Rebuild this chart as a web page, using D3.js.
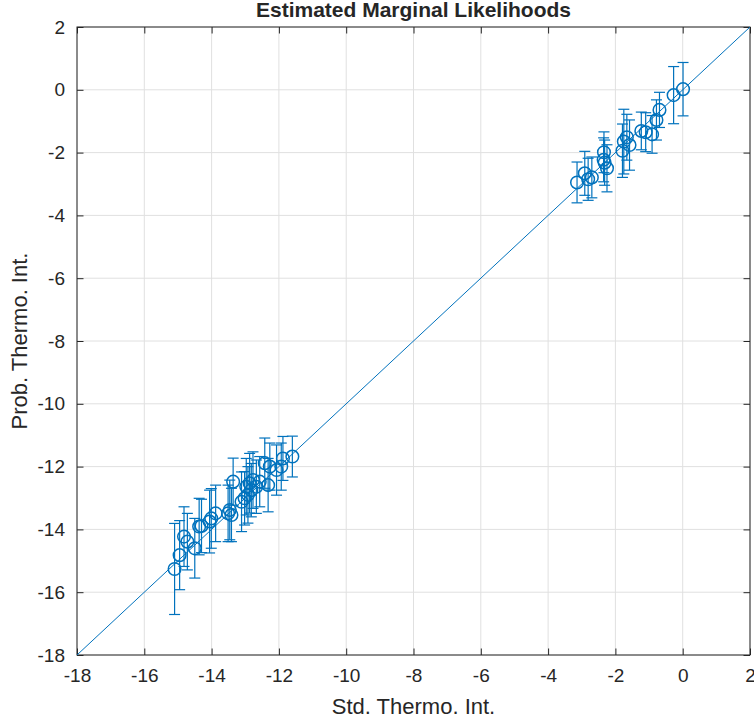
<!DOCTYPE html>
<html>
<head>
<meta charset="utf-8">
<script src="https://cdn.jsdelivr.net/npm/d3@7"></script>
<style>
  body { margin: 0; background: #fff; }
  svg text { font-family: "Liberation Sans", Arial, Helvetica, sans-serif; fill: #262626; }
</style>
</head>
<body>
<svg id="chart"></svg>
<script>
// x = standard thermodynamic integration, y = probabilistic thermodynamic integration
const stdTI = [
  -3.14, -2.91, -2.81, -2.70, -2.34, -2.35, -2.32, -2.25, -1.79, -1.75,
  -1.66, -1.58, -1.23, -1.10, -0.91, -0.78, -0.69, -0.27, 0.01,
  -15.10, -14.95, -14.82, -14.72, -14.50, -14.37, -14.30, -14.06, -14.01, -13.88,
  -13.51, -13.46, -13.41, -13.36, -13.11, -13.02, -12.92, -12.97, -12.87, -12.82,
  -12.77, -12.67, -12.57, -12.32, -12.42, -12.27, -12.07, -11.93, -11.88, -11.60
];
const probTI = [
  -2.95, -2.66, -2.85, -2.79, -1.99, -2.23, -2.32, -2.50, -1.94, -1.65,
  -1.51, -1.76, -1.31, -1.35, -1.42, -0.96, -0.64, -0.17, 0.02,
  -15.26, -14.82, -14.23, -14.39, -14.60, -13.91, -13.89, -13.75, -13.65, -13.49,
  -13.49, -13.38, -13.54, -12.48, -13.12, -13.01, -12.90, -12.64, -12.53, -12.75,
  -12.43, -12.64, -12.48, -12.59, -11.89, -12.00, -12.11, -12.00, -11.74, -11.68
];
const probErr = [
  0.65, 0.70, 0.67, 0.65, 0.65, 0.70, 0.72, 0.75, 0.85, 1.03,
  0.73, 0.80, 0.60, 0.62, 0.60, 0.64, 0.56, 0.91, 0.85,
  1.45, 1.10, 0.95, 0.90, 0.95, 0.90, 0.85, 1.00, 0.95, 0.90,
  0.90, 0.95, 0.85, 0.75, 0.95, 0.85, 0.90, 0.90, 0.95, 0.85,
  0.90, 0.85, 0.80, 0.85, 0.80, 0.75, 0.80, 0.75, 0.70, 0.65
];
const xTicks = [-18, -16, -14, -12, -10, -8, -6, -4, -2, 0, 2];
const yTicks = [-18, -16, -14, -12, -10, -8, -6, -4, -2, 0, 2];
const refLine = [-18, 2];

const W = 754, H = 721;
const margin = { top: 27, right: 4, bottom: 66, left: 77 };
const width = W - margin.left - margin.right;
const height = H - margin.top - margin.bottom;
const blue = "#0072BD";

const svg = d3.select("#chart").attr("width", W).attr("height", H);
const g = svg.append("g").attr("transform", `translate(${margin.left},${margin.top})`);

const x = d3.scaleLinear().domain([-18, 2]).range([0, width]);
const y = d3.scaleLinear().domain([-18, 2]).range([height, 0]);

// grid
g.append("g").selectAll("line").data(xTicks).enter().append("line")
  .attr("x1", d => x(d)).attr("x2", d => x(d)).attr("y1", 0).attr("y2", height)
  .attr("stroke", "#e0e0e0");
g.append("g").selectAll("line").data(yTicks).enter().append("line")
  .attr("y1", d => y(d)).attr("y2", d => y(d)).attr("x1", 0).attr("x2", width)
  .attr("stroke", "#e0e0e0");

// axes, ticks inside on all four sides
const fmt = d => String(d);
const tl = 6.5;
const styleAxis = sel => {
  sel.select(".domain").remove();
  sel.selectAll(".tick line").attr("stroke", "#262626");
  sel.selectAll(".tick text").style("font-size", "19px").attr("fill", "#262626");
};
g.append("g").attr("transform", `translate(0,${height})`)
  .call(d3.axisBottom(x).tickValues(xTicks).tickFormat(fmt).tickSizeInner(-tl).tickSizeOuter(0).tickPadding(14))
  .call(styleAxis);
g.append("g")
  .call(d3.axisTop(x).tickValues(xTicks).tickFormat("").tickSizeInner(-tl).tickSizeOuter(0))
  .call(styleAxis);
g.append("g")
  .call(d3.axisLeft(y).tickValues(yTicks).tickFormat(fmt).tickSizeInner(-tl).tickSizeOuter(0).tickPadding(12))
  .call(styleAxis);
g.append("g").attr("transform", `translate(${width},0)`)
  .call(d3.axisRight(y).tickValues(yTicks).tickFormat("").tickSizeInner(-tl).tickSizeOuter(0))
  .call(styleAxis);

g.append("rect").attr("width", width).attr("height", height)
  .attr("fill", "none").attr("stroke", "#262626").attr("stroke-width", 1);

// y = x reference line
g.append("line")
  .attr("x1", x(refLine[0])).attr("y1", y(refLine[0]))
  .attr("x2", x(refLine[1])).attr("y2", y(refLine[1]))
  .attr("stroke", blue).attr("stroke-width", 1);

const pts = stdTI.map((v, i) => ({ sx: v, py: probTI[i], e: probErr[i] }));

// error bars
const eb = g.append("g").attr("stroke", blue).attr("stroke-width", 1.2).attr("fill", "none");
const cap = 5.5;
pts.forEach(d => {
  const cx = x(d.sx), top = y(d.py + d.e), bot = y(d.py - d.e);
  eb.append("line").attr("x1", cx).attr("x2", cx).attr("y1", top).attr("y2", bot);
  eb.append("line").attr("x1", cx - cap).attr("x2", cx + cap).attr("y1", top).attr("y2", top);
  eb.append("line").attr("x1", cx - cap).attr("x2", cx + cap).attr("y1", bot).attr("y2", bot);
});

// markers
g.append("g").selectAll("circle").data(pts).enter().append("circle")
  .attr("cx", d => x(d.sx)).attr("cy", d => y(d.py)).attr("r", 6.3)
  .attr("fill", "none").attr("stroke", blue).attr("stroke-width", 1.5);

// labels
svg.append("text").attr("x", margin.left + width / 2).attr("y", 17)
  .attr("text-anchor", "middle").style("font-size", "21px").style("font-weight", "bold")
  .attr("fill", "#000").text("Estimated Marginal Likelihoods");
svg.append("text").attr("x", margin.left + width / 2).attr("y", 714)
  .attr("text-anchor", "middle").style("font-size", "22px").text("Std. Thermo. Int.");
svg.append("text")
  .attr("transform", `translate(27,${margin.top + height / 2}) rotate(-90)`)
  .attr("text-anchor", "middle").style("font-size", "22px").text("Prob. Thermo. Int.");
</script>
</body>
</html>
